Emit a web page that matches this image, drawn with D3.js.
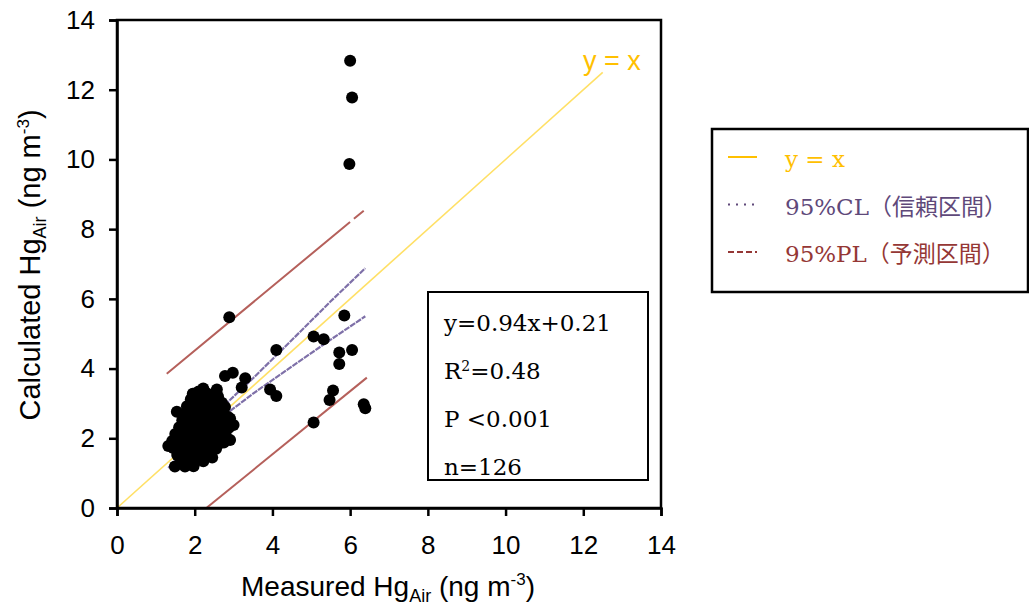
<!DOCTYPE html>
<html><head><meta charset="utf-8">
<script src="https://cdn.jsdelivr.net/npm/d3@7"></script>
<style>body{margin:0;background:#fff}svg{display:block}</style>
</head><body>
<script>
// ---- data ----
const xTicks = [0,2,4,6,8,10,12,14];
const yTicks = [0,2,4,6,8,10,12,14];
const outlierX = [6.0,6.05,5.98,2.89,5.85,5.06,5.32,4.10,5.72,6.05,5.72,2.78,2.98,3.30,3.21,2.57,3.94,4.10,5.56,5.47,6.35,6.39,5.06,2.91,3.0,2.22,1.54,2.91,1.32,1.49,1.75,1.97,2.76];
const outlierY = [12.83,11.78,9.87,5.47,5.52,4.92,4.84,4.53,4.46,4.53,4.13,3.79,3.88,3.72,3.46,3.40,3.40,3.21,3.37,3.10,2.98,2.86,2.45,2.57,2.38,3.43,2.76,1.95,1.78,1.19,1.19,1.20,2.62];
const clusterX = [1.95,2.1,2.3,2.45,2.6, 1.9,2.05,2.2,2.38,2.55,2.7, 1.8,1.95,2.12,2.28,2.42,2.6,2.78,
 1.75,1.9,2.05,2.2,2.35,2.5,2.65,2.85, 1.68,1.85,2.0,2.15,2.3,2.45,2.6,2.75, 1.6,1.78,1.92,2.08,2.25,2.4,2.55,2.7,2.88,
 1.5,1.68,1.85,2.0,2.18,2.32,2.5,2.65,2.8, 1.42,1.6,1.75,1.92,2.1,2.25,2.42,2.6,2.75, 1.45,1.62,1.8,1.98,2.15,2.35,2.55,
 1.55,1.72,1.9,2.08,2.28,2.45, 1.65,1.85,2.05,2.22,
 2.02,2.12,2.22,2.32,1.88,2.08,2.18,2.28,2.4,1.98,2.15,2.5,1.72,2.35,2.62];
const clusterY = [3.28,3.34,3.3,3.25,3.2, 3.12,3.05,3.15,3.08,3.1,3.02, 2.92,2.85,2.95,2.88,2.93,2.86,2.9,
 2.72,2.66,2.75,2.68,2.73,2.65,2.7,2.62, 2.52,2.46,2.55,2.48,2.53,2.45,2.5,2.42, 2.32,2.26,2.35,2.28,2.33,2.25,2.3,2.22,2.3,
 2.12,2.06,2.15,2.08,2.13,2.05,2.1,2.02,2.08, 1.92,1.86,1.95,1.88,1.93,1.85,1.9,1.82,1.88, 1.72,1.66,1.75,1.68,1.73,1.65,1.7,
 1.52,1.46,1.55,1.48,1.53,1.45, 1.36,1.32,1.38,1.34,
 2.38,2.62,2.18,2.78,2.02,1.82,2.95,2.42,2.62,2.22,1.62,2.88,1.98,2.05,2.35];
const identityX = [0,12.5], identityY = [0,12.5];
const clX = [1.32,2.0,2.6,3.5,4.5,5.5,6.39];
const clUpperY = [1.75,2.25,2.78,3.72,4.82,5.93,6.88];
const clLowerY = [1.15,1.93,2.52,3.28,4.06,4.83,5.50];
const plUpperX = [1.28,6.35], plUpperY = [3.85,8.53];
const plLowerX = [2.3,6.43], plLowerY = [0,3.74];
const statsText = ["y=0.94x+0.21","R2=0.48","P <0.001","n=126"];
const legendLabels = ["y = x","95%CL（信頼区間）","95%PL（予測区間）"];

// ---- chart ----
const W=1029,H=610;
const svg=d3.select("body").append("svg").attr("width",W).attr("height",H);
const x=d3.scaleLinear().domain([0,14]).range([117,661]);
const y=d3.scaleLinear().domain([0,14]).range([508,20]);
const sans="'Liberation Sans', Arial, sans-serif";
const serif="'DejaVu Serif','Noto Sans CJK JP',serif";

const line=d3.line().x(d=>x(d[0])).y(d=>y(d[1]));
const zip=(a,b)=>a.map((v,i)=>[v,b[i]]);

// lines
svg.append("path").attr("d",line(zip(identityX,identityY))).attr("fill","none").attr("stroke","#FFE066").attr("stroke-width",1.6);
svg.append("path").attr("d",line(zip(plUpperX,plUpperY))).attr("fill","none").attr("stroke","#B5605B").attr("stroke-width",2).attr("stroke-dasharray","238,5");
svg.append("path").attr("d",line(zip(plLowerX,plLowerY))).attr("fill","none").attr("stroke","#B5605B").attr("stroke-width",2);
svg.append("path").attr("d",line(zip(clX,clUpperY))).attr("fill","none").attr("stroke","#7E70A8").attr("stroke-width",2.2).attr("stroke-dasharray","6,1");
svg.append("path").attr("d",line(zip(clX,clLowerY))).attr("fill","none").attr("stroke","#7E70A8").attr("stroke-width",2.2).attr("stroke-dasharray","6,1");

// points
const pts=zip(outlierX,outlierY).concat(zip(clusterX,clusterY));
svg.append("g").selectAll("circle").data(pts).join("circle")
  .attr("cx",d=>x(d[0])).attr("cy",d=>y(d[1])).attr("r",6).attr("fill","#000");

// frame
svg.append("rect").attr("x",117).attr("y",20).attr("width",544).attr("height",488)
  .attr("fill","none").attr("stroke","#000").attr("stroke-width",2.5);

// axes
const xa=svg.append("g").attr("transform","translate(0,508)")
  .call(d3.axisBottom(x).tickValues(xTicks).tickSize(8).tickPadding(20).tickFormat(d3.format("d")));
const ya=svg.append("g").attr("transform","translate(117,0)")
  .call(d3.axisLeft(y).tickValues(yTicks).tickSize(8).tickPadding(14).tickFormat(d3.format("d")));
[xa,ya].forEach(a=>{
  a.select(".domain").attr("stroke","#000").attr("stroke-width",2.5);
  a.selectAll(".tick line").attr("stroke","#000").attr("stroke-width",2.5);
  a.selectAll(".tick text").attr("font-family",sans).attr("font-size",26).attr("fill","#000");
});

// axis titles
function axisTitle(sel,main){
  sel.append("tspan").text(main);
  sel.append("tspan").attr("font-size",18).attr("dy",6).text("Air");
  sel.append("tspan").attr("dy",-6).text(" (ng m");
  sel.append("tspan").attr("font-size",17).attr("dy",-11).text("-3");
  sel.append("tspan").attr("dy",11).text(")");
}
axisTitle(svg.append("text").attr("x",388).attr("y",596).attr("text-anchor","middle")
  .attr("font-family",sans).attr("font-size",28).attr("fill","#000"),"Measured Hg");
axisTitle(svg.append("text").attr("transform","translate(40,265) rotate(-90)").attr("text-anchor","middle")
  .attr("font-family",sans).attr("font-size",29).attr("fill","#000"),"Calculated Hg");

// y = x label
svg.append("text").attr("x",583).attr("y",70).attr("font-family",sans).attr("font-size",27)
  .attr("fill","#FFC000").text("y = x");

// stats box
svg.append("rect").attr("x",428).attr("y",292).attr("width",220).attr("height",188)
  .attr("fill","#fff").attr("stroke","#000").attr("stroke-width",2);
statsText.forEach((t,i)=>{
  const tx=svg.append("text").attr("x",444).attr("y",331+i*48).attr("font-family",serif)
    .attr("font-size",23).attr("fill","#000");
  if(t.startsWith("R2")){
    tx.append("tspan").text("R");
    tx.append("tspan").attr("font-size",14).attr("dy",-8).text("2");
    tx.append("tspan").attr("dy",8).text(t.slice(2));
  } else tx.text(t);
});

// legend
svg.append("rect").attr("x",712).attr("y",129).attr("width",316).attr("height",163)
  .attr("fill","#fff").attr("stroke","#000").attr("stroke-width",2.5);
const legColors=["#FFC000","#5F497A","#953735"];
const legDash=[null,"2,6","6,3"];
legendLabels.forEach((t,i)=>{
  const yy=157+i*47.5;
  svg.append("line").attr("x1",728).attr("x2",757).attr("y1",yy).attr("y2",yy)
    .attr("stroke",legColors[i]).attr("stroke-width",2).attr("stroke-dasharray",legDash[i]);
  svg.append("text").attr("x",785).attr("y",yy+10).attr("font-family",serif).attr("font-size",23)
    .attr("fill",legColors[i]).text(t);
});
</script>
</body></html>
